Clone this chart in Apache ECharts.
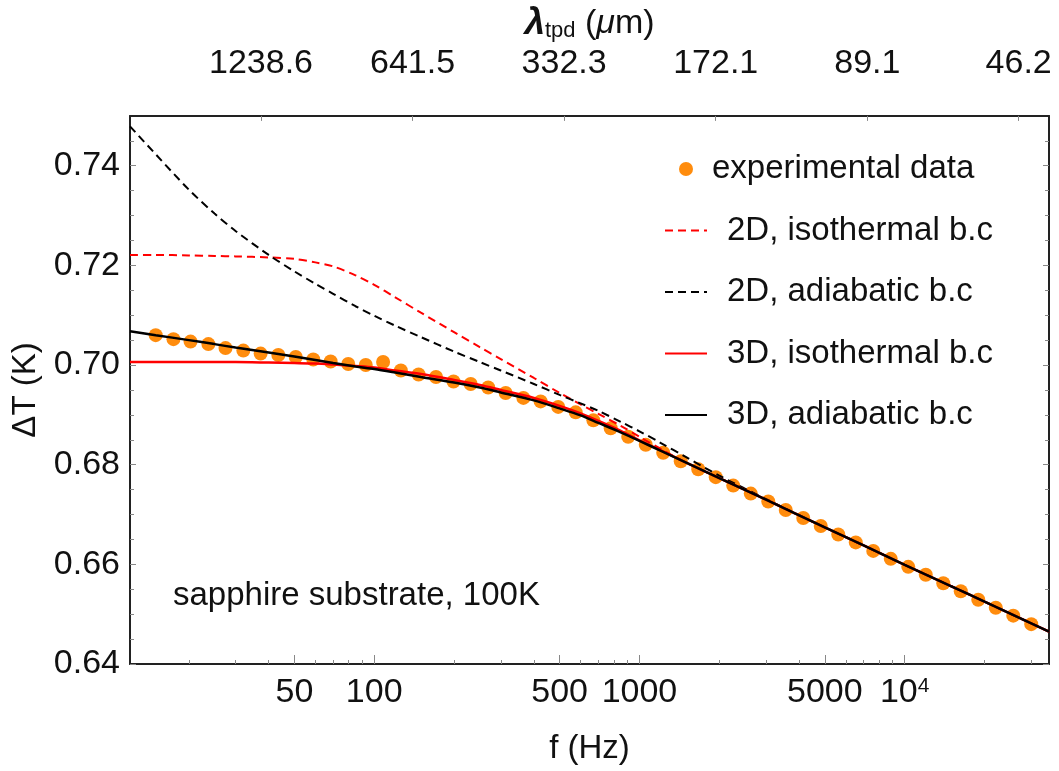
<!DOCTYPE html>
<html>
<head>
<meta charset="utf-8">
<title>Delta T vs f</title>
<script src="https://cdn.jsdelivr.net/npm/echarts@6/dist/echarts.min.js"></script>
<style>
  html, body { margin: 0; padding: 0; background: #fff; }
  #chart { width: 1059px; height: 771px; }
</style>
</head>
<body>
<div id="chart"></div>
<script>
// experimental points (f in Hz, dT in K)
var freqData = [15, 17.5, 20.3, 23.7, 27.5, 32.1, 37.3, 43.5, 50.6, 58.9,
  68.5, 79.8, 92.9, 108, 126, 147, 171, 199, 231, 269,
  313, 365, 424, 494, 575, 670, 779, 907, 1056, 1229,
  1431, 1666, 1939, 2257, 2628, 3059, 3561, 4145, 4825, 5617,
  6539, 7612, 8861, 10315, 12007, 13977, 16271, 18941, 22049, 25667, 30000];
var dTData = [0.7060, 0.7052, 0.7047, 0.7042, 0.7034, 0.7029, 0.7023, 0.7020, 0.7016, 0.7011,
  0.7007, 0.7002, 0.7000, 0.7006, 0.6989, 0.6981, 0.6976, 0.6967, 0.6962, 0.6955,
  0.6944, 0.6934, 0.6927, 0.6916, 0.6905, 0.6889, 0.6873, 0.6856, 0.6840, 0.6824,
  0.6807, 0.6791, 0.6775, 0.6758, 0.6742, 0.6726, 0.6709, 0.6693, 0.6677, 0.6660,
  0.6644, 0.6627, 0.6611, 0.6595, 0.6579, 0.6562, 0.6546, 0.6529, 0.6513, 0.6497, 0.6480];

// model curves, sampled at these frequencies
var freqCurve = [12, 15, 20, 25, 30, 40, 50, 60, 70, 85,
  100, 120, 150, 200, 250, 300, 400, 500, 600, 700,
  850, 1000, 1200, 1500, 2000, 3000, 5000, 7000, 10000, 15000, 20000, 35000];
var iso2D = [0.7221, 0.7221, 0.7220, 0.7219, 0.7218, 0.7216, 0.7213, 0.7206, 0.7198, 0.7180,
  0.7161, 0.7136, 0.7105, 0.7066, 0.7036, 0.7012, 0.6974, 0.6944, 0.6921, 0.6902,
  0.6878, 0.6856, 0.6832, 0.6804, 0.6773, 0.6730, 0.6674, 0.6638, 0.6599, 0.6556, 0.6525, 0.6465];
var adi2D = [0.7479, 0.7423, 0.7352, 0.7304, 0.7269, 0.7221, 0.7188, 0.7163, 0.7143, 0.7118,
  0.7099, 0.7079, 0.7056, 0.7027, 0.7006, 0.6989, 0.6962, 0.6940, 0.6923, 0.6908,
  0.6886, 0.6867, 0.6844, 0.6815, 0.6778, 0.6731, 0.6674, 0.6638, 0.6599, 0.6556, 0.6525, 0.6465];
var iso3D = [0.7006, 0.7006, 0.7006, 0.7006, 0.7006, 0.7005, 0.7004, 0.7003, 0.7001, 0.6998,
  0.6995, 0.6989, 0.6982, 0.6970, 0.6960, 0.6950, 0.6934, 0.6918, 0.6903, 0.6888,
  0.6868, 0.6849, 0.6829, 0.6804, 0.6773, 0.6730, 0.6674, 0.6638, 0.6599, 0.6556, 0.6525, 0.6465];
var adi3D = [0.7068, 0.7060, 0.7050, 0.7042, 0.7035, 0.7025, 0.7017, 0.7010, 0.7004, 0.6997,
  0.6992, 0.6985, 0.6976, 0.6965, 0.6955, 0.6945, 0.6929, 0.6913, 0.6899, 0.6884,
  0.6865, 0.6848, 0.6828, 0.6804, 0.6773, 0.6730, 0.6674, 0.6638, 0.6599, 0.6556, 0.6525, 0.6465];

// axis ticks
var xMajorTicks = [50, 100, 500, 1000, 5000, 10000];
var xMinorTicks = [20, 30, 40, 60, 70, 80, 90, 200, 300, 400, 600, 700, 800, 900,
  2000, 3000, 4000, 6000, 7000, 8000, 9000, 20000, 30000];
var lambdaTicks = [1238.6, 641.5, 332.3, 172.1, 89.1, 46.2];
var yMajorTicks = [0.64, 0.66, 0.68, 0.70, 0.72, 0.74];
var yMinorTicks = [0.645, 0.65, 0.655, 0.665, 0.67, 0.675, 0.685, 0.69, 0.695,
  0.705, 0.71, 0.715, 0.725, 0.73, 0.735, 0.745];

var FONT = "'Liberation Sans', Arial, Helvetica, sans-serif";
var TXT = '#111';
var FRAME = { color: '#222', width: 2 };
var TICK = { color: '#888', width: 1 };
var LOG_C = 3.8795; // lambda * sqrt(f) = const (from the top scale)
var X_MIN = Math.log10(12), X_MAX = Math.log10(35000);

function lg(v) { return Math.log10(v); }
function pairs(fs, vs) {
  return fs.map(function (f, i) { return [lg(f), vs[i]]; });
}
var lambdaPos = lambdaTicks.map(function (l) { return 2 * (LOG_C - lg(l)); });

var chart = echarts.init(document.getElementById('chart'));

var lineItem = { itemStyle: { opacity: 0 }, textStyle: { padding: [0, 0, 0, 15] } };

var option = {
  animation: false,
  backgroundColor: '#fff',
  textStyle: { fontFamily: FONT },
  title: {
    text: 'sapphire substrate, 100K',
    left: 173,
    top: 579,
    padding: 0,
    textStyle: { fontSize: 33, fontWeight: 'normal', color: TXT, fontFamily: FONT }
  },
  legend: {
    orient: 'vertical',
    left: 664,
    top: 152,
    padding: 0,
    itemWidth: 42,
    itemHeight: 14,
    itemGap: 27.5,
    textStyle: { fontSize: 33, lineHeight: 34, color: TXT, fontFamily: FONT },
    data: [
      { name: 'experimental data', icon: 'circle' },
      Object.assign({ name: '2D, isothermal b.c' }, lineItem),
      Object.assign({ name: '2D, adiabatic b.c' }, lineItem),
      Object.assign({ name: '3D, isothermal b.c' }, lineItem),
      Object.assign({ name: '3D, adiabatic b.c' }, lineItem)
    ]
  },
  grid: { left: 130, right: 10, top: 101, bottom: 102, containLabel: false },
  xAxis: [
    {
      type: 'value', position: 'bottom', min: X_MIN, max: X_MAX,
      axisLine: { lineStyle: FRAME },
      axisTick: { inside: true, length: 9, customValues: xMajorTicks.map(lg), lineStyle: TICK },
      axisLabel: {
        customValues: xMajorTicks.map(lg),
        margin: 12, fontSize: 34, lineHeight: 34, color: TXT, fontFamily: FONT,
        formatter: function (v) {
          var f = Math.round(Math.pow(10, v));
          return f === 10000 ? '{b|10}{s|4}' : String(f);
        },
        rich: {
          b: { fontSize: 34, lineHeight: 34, color: TXT, fontFamily: FONT },
          s: { fontSize: 21, lineHeight: 11, verticalAlign: 'top', color: TXT, fontFamily: FONT }
        }
      },
      splitLine: { show: false },
      name: 'f (Hz)', nameLocation: 'middle', nameGap: 68,
      nameTextStyle: { fontSize: 33, lineHeight: 34, color: TXT, fontFamily: FONT }
    },
    {
      type: 'value', position: 'bottom', min: X_MIN, max: X_MAX,
      axisLine: { show: false },
      axisTick: { inside: true, length: 4, customValues: xMinorTicks.map(lg), lineStyle: TICK },
      axisLabel: { show: false },
      splitLine: { show: false }
    },
    {
      type: 'value', position: 'top', min: X_MIN, max: X_MAX,
      axisLine: { lineStyle: FRAME },
      axisTick: { inside: true, length: 5, customValues: lambdaPos, lineStyle: TICK },
      axisLabel: {
        customValues: lambdaPos,
        margin: 35, fontSize: 34, lineHeight: 34, color: TXT, fontFamily: FONT,
        formatter: function (v) {
          return Math.pow(10, LOG_C - v / 2).toFixed(1);
        }
      },
      splitLine: { show: false },
      name: '{l|\u03bb}{s|tpd}{n| (}{m|\u03bc}{n|m)}',
      nameLocation: 'middle', nameGap: 68,
      nameTextStyle: {
        rich: {
          l: { fontSize: 37, lineHeight: 36, fontStyle: 'italic', fontWeight: 'bold', color: TXT, fontFamily: FONT },
          s: { fontSize: 22, lineHeight: 26, verticalAlign: 'bottom', color: TXT, fontFamily: FONT },
          n: { fontSize: 34, lineHeight: 36, color: TXT, fontFamily: FONT },
          m: { fontSize: 34, lineHeight: 36, fontStyle: 'italic', color: TXT, fontFamily: FONT }
        }
      }
    }
  ],
  yAxis: [
    {
      type: 'value', position: 'left', min: 0.64, max: 0.75,
      axisLine: { show: true, lineStyle: FRAME },
      axisTick: { inside: true, length: 6, customValues: yMajorTicks, lineStyle: TICK },
      axisLabel: {
        customValues: yMajorTicks, margin: 10, fontSize: 34, color: TXT, fontFamily: FONT,
        formatter: function (v) { return v.toFixed(2); }
      },
      splitLine: { show: false },
      name: '\u0394T (K)', nameLocation: 'middle', nameGap: 83, nameRotate: 90,
      nameTextStyle: { fontSize: 33, lineHeight: 34, color: TXT, fontFamily: FONT }
    },
    {
      type: 'value', position: 'left', min: 0.64, max: 0.75,
      axisLine: { show: false },
      axisTick: { inside: true, length: 4, customValues: yMinorTicks, lineStyle: TICK },
      axisLabel: { show: false },
      splitLine: { show: false }
    },
    {
      type: 'value', position: 'right', min: 0.64, max: 0.75,
      axisLine: { show: true, lineStyle: FRAME },
      axisTick: { inside: true, length: 6, customValues: yMajorTicks, lineStyle: TICK },
      axisLabel: { show: false },
      splitLine: { show: false }
    },
    {
      type: 'value', position: 'right', min: 0.64, max: 0.75,
      axisLine: { show: false },
      axisTick: { inside: true, length: 4, customValues: yMinorTicks, lineStyle: TICK },
      axisLabel: { show: false },
      splitLine: { show: false }
    }
  ],
  series: [
    {
      name: 'experimental data', type: 'scatter',
      symbol: 'circle', symbolSize: 14,
      itemStyle: { color: '#ff8c0d', opacity: 1 },
      data: pairs(freqData, dTData)
    },
    {
      name: '2D, isothermal b.c', type: 'line', symbol: 'none', smooth: 0.3,
      lineStyle: { color: '#ff0000', width: 2, type: [8, 5] },
      itemStyle: { color: '#ff0000' },
      data: pairs(freqCurve, iso2D)
    },
    {
      name: '2D, adiabatic b.c', type: 'line', symbol: 'none', smooth: 0.3,
      lineStyle: { color: '#000', width: 2, type: [8, 5] },
      itemStyle: { color: '#000' },
      data: pairs(freqCurve, adi2D)
    },
    {
      name: '3D, isothermal b.c', type: 'line', symbol: 'none', smooth: 0.3,
      lineStyle: { color: '#ff0000', width: 2.5 },
      itemStyle: { color: '#ff0000' },
      data: pairs(freqCurve, iso3D)
    },
    {
      name: '3D, adiabatic b.c', type: 'line', symbol: 'none', smooth: 0.3,
      lineStyle: { color: '#000', width: 2.5 },
      itemStyle: { color: '#000' },
      data: pairs(freqCurve, adi3D)
    }
  ]
};

chart.setOption(option);
</script>
</body>
</html>
